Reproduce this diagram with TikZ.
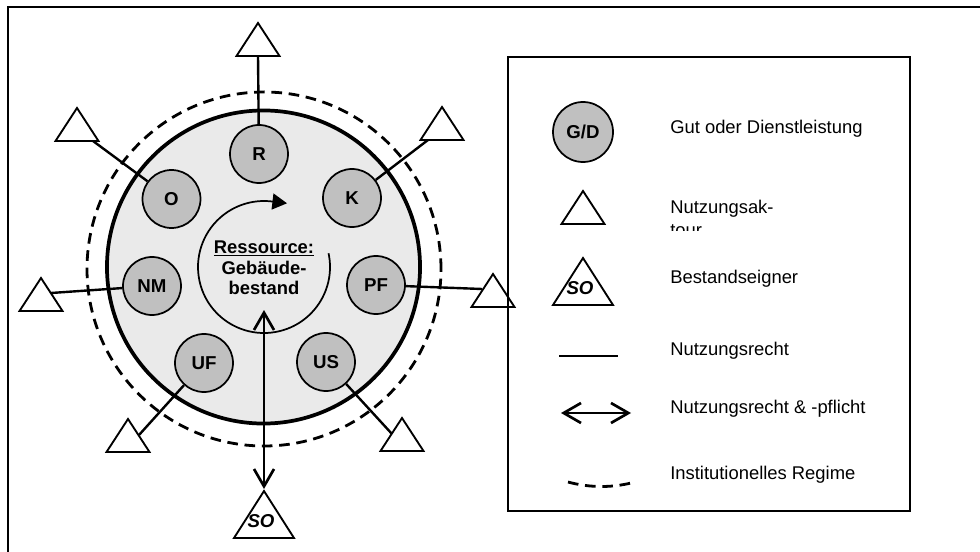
\documentclass[tikz,border=0pt]{standalone}
\usepackage{fontspec}
\setmainfont{Liberation Sans}
\usetikzlibrary{arrows.meta}

\definecolor{resfill}{HTML}{EAEAEA}
\definecolor{goodfill}{HTML}{C0C0C0}

\tikzset{
  good/.style={circle, draw, line width=1.3pt, fill=goodfill, minimum size=43.5pt,
    inner sep=0pt, font=\fontsize{14}{16}\selectfont\bfseries},
  actor/.pic={\draw[line width=1.4pt] (0,0) -- (21.5,33) -- (-21.5,33) -- cycle;},
  owner/.pic={\draw[line width=1.4pt] (0,0) -- (30,47) -- (-30,47) -- cycle;
    \node[inner sep=0pt, font=\fontsize{14}{16}\selectfont\bfseries\itshape] at (-3,30) {SO};},
  useright/.style={line width=1.8pt},
  usedual/.style={line width=2pt,
    {Straight Barb[length=13pt,width=15pt]}-{Straight Barb[length=13pt,width=15pt]}},
  regime/.style={line width=2.1pt, dash pattern=on 8pt off 5pt},
  legtext/.style={anchor=base west, inner sep=0pt, font=\fontsize{13.8}{16}\selectfont},
  frameline/.style={line width=1.6pt},
}

\begin{document}
\begin{tikzpicture}[x=0.75pt, y=-0.75pt]
\useasboundingbox (0,0) rectangle (980,552);

% outer frame (open to the right and bottom)
\draw[frameline] (980,7) -- (8,7) -- (8,552);

% institutional regime and the building stock
\node[circle, regime, draw, minimum size=265.5pt, inner sep=0pt] (regime) at (264,269) {};
\node[circle, draw, line width=2.8pt, fill=resfill, minimum size=234.8pt, inner sep=0pt] (stock) at (263.5,267) {};

% rotating arrow around the resource label
\begin{scope}[shift={(264,267)}, x=0.75pt, y=0.75pt]
  \draw[line width=1.3pt, -{Triangle[length=11pt,width=12pt]}]
    (12:66) arc[start angle=12, end angle=-277, radius=66] -- ++(15,-1.8);
\end{scope}

\node[align=center, inner sep=0pt, font=\fontsize{13.8}{15.4}\selectfont\bfseries] (label) at (264,268)
  {\underline{Ressource:}\\Geb\"aude-\\bestand};

% goods and services
\node[good] (R)  at (259,154)   {R};
\node[good] (K)  at (352,198)   {K};
\node[good] (O)  at (171.5,199) {O};
\node[good] (NM) at (152,286)   {NM};
\node[good] (PF) at (376,285)   {PF};
\node[good] (UF) at (204,363)   {UF};
\node[good] (US) at (326,362)   {US};

% usage actors
\pic at (258,23)  {actor};
\pic at (77,108)  {actor};
\pic at (442,107) {actor};
\pic at (41,278)  {actor};
\pic at (493,274) {actor};
\pic at (128,419) {actor};
\pic at (402,418) {actor};

\coordinate (eR)  at (258,56);
\coordinate (eO)  at (93,141);
\coordinate (eK)  at (428,140);
\coordinate (eNM) at (51,293);
\coordinate (ePF) at (482,289);
\coordinate (eUF) at (139,435);
\coordinate (eUS) at (392,434);

\draw[useright] (R)  -- (eR);
\draw[useright] (O)  -- (eO);
\draw[useright] (K)  -- (eK);
\draw[useright] (NM) -- (eNM);
\draw[useright] (PF) -- (ePF);
\draw[useright] (UF) -- (eUF);
\draw[useright] (US) -- (eUS);

% stock owner with right and duty
\pic at (264,491) {owner};
\coordinate (ownTop) at (264,310);
\coordinate (ownApex) at (264,489);
\draw[usedual] (ownTop) -- (ownApex);

% legend
\node[draw, line width=1.6pt, minimum width=301.5pt, minimum height=340.5pt, inner sep=0pt] (legend) at (709,284) {};

\node[good, minimum size=45pt] (lgGD) at (583,132) {G/D};
\node[legtext] (tGD) at (670,133.6) {Gut oder Dienstleistung};

\pic at (583,191) {actor};
\node[legtext] (tActor) at (670,213.6) {Nutzungsak-};
\begin{scope}
  \clip (640,215) rectangle (900,230);
  \node[legtext] (tActor2) at (670,236) {tour};
\end{scope}

\pic at (583,258) {owner};
\node[legtext] (tOwner) at (670,283.6) {Bestandseigner};

\coordinate (lgL1) at (559,356);
\coordinate (lgL2) at (618,356);
\draw[useright] (lgL1) -- (lgL2);
\node[legtext] (tRight) at (670,355.6) {Nutzungsrecht};

\coordinate (lgA1) at (561,413);
\coordinate (lgA2) at (631,413);
\draw[usedual] (lgA1) -- (lgA2);
\node[legtext] (tDual) at (670,413.6) {Nutzungsrecht \& -pflicht};

\coordinate (lgD1) at (568,482);
\coordinate (lgD2) at (635,482);
\draw[regime] (lgD1) .. controls (590,488) and (613,488) .. (lgD2);
\node[legtext] (tRegime) at (670,479.6) {Institutionelles Regime};
\end{tikzpicture}
\end{document}
